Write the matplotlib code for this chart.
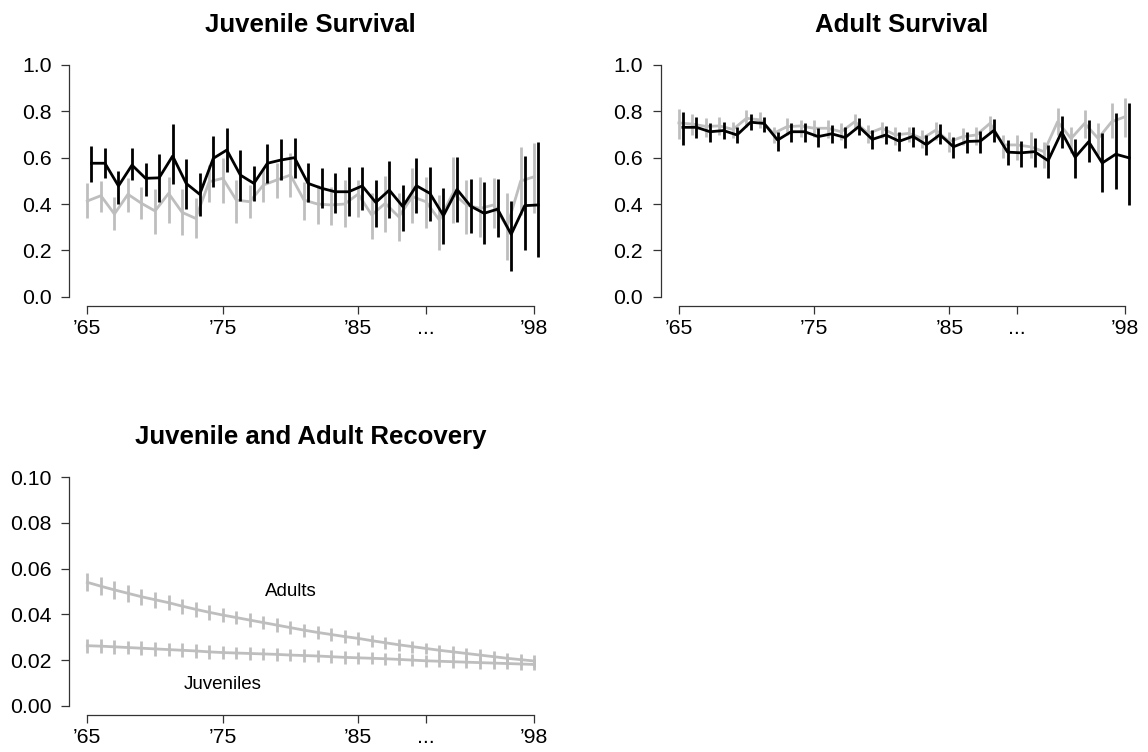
import matplotlib
matplotlib.use("Agg")
import matplotlib.pyplot as plt
import numpy as np

plt.rcParams['font.family'] = ['Liberation Sans', 'DejaVu Sans']

years = list(range(1965, 1999))
xtick_pos = [1965, 1975, 1985, 1990, 1998]
xtick_labels = ["\u201965", "\u201975", "\u201985", "...", "\u201998"]

# Juvenile survival
juv_surv_black = [0.576, 0.576, 0.478, 0.568, 0.511, 0.513, 0.607, 0.489, 0.442, 0.597,
                  0.633, 0.525, 0.489, 0.576, 0.590, 0.600, 0.489, 0.468, 0.453, 0.453,
                  0.478, 0.407, 0.460, 0.389, 0.479, 0.446, 0.350, 0.463, 0.391, 0.360,
                  0.378, 0.269, 0.393, 0.396]
juv_surv_black_lo = [0.496, 0.511, 0.400, 0.504, 0.436, 0.407, 0.485, 0.377, 0.348, 0.475,
                     0.540, 0.414, 0.413, 0.492, 0.504, 0.511, 0.410, 0.381, 0.360, 0.350,
                     0.374, 0.302, 0.341, 0.285, 0.360, 0.328, 0.227, 0.321, 0.274, 0.227,
                     0.259, 0.112, 0.202, 0.170]
juv_surv_black_hi = [0.650, 0.640, 0.542, 0.640, 0.576, 0.617, 0.744, 0.594, 0.534, 0.692,
                     0.727, 0.633, 0.564, 0.658, 0.679, 0.685, 0.576, 0.554, 0.533, 0.561,
                     0.561, 0.504, 0.587, 0.482, 0.597, 0.561, 0.468, 0.604, 0.508, 0.494,
                     0.508, 0.413, 0.609, 0.669]
juv_surv_gray = [0.413, 0.436, 0.357, 0.442, 0.403, 0.370, 0.446, 0.364, 0.338, 0.496,
                 0.511, 0.417, 0.410, 0.482, 0.504, 0.525, 0.417, 0.400, 0.396, 0.400,
                 0.443, 0.353, 0.403, 0.345, 0.432, 0.410, 0.331, 0.446, 0.396, 0.381,
                 0.396, 0.302, 0.499, 0.518]
juv_surv_gray_lo = [0.338, 0.364, 0.288, 0.367, 0.334, 0.271, 0.317, 0.266, 0.252, 0.410,
                    0.403, 0.317, 0.338, 0.410, 0.425, 0.432, 0.331, 0.314, 0.309, 0.299,
                    0.345, 0.249, 0.281, 0.240, 0.317, 0.295, 0.202, 0.317, 0.269, 0.259,
                    0.295, 0.158, 0.353, 0.360]
juv_surv_gray_hi = [0.492, 0.499, 0.432, 0.511, 0.475, 0.463, 0.518, 0.463, 0.425, 0.568,
                    0.597, 0.504, 0.482, 0.554, 0.576, 0.619, 0.496, 0.482, 0.475, 0.504,
                    0.504, 0.446, 0.521, 0.446, 0.554, 0.518, 0.439, 0.602, 0.504, 0.518,
                    0.511, 0.449, 0.647, 0.662]

# Adult survival
ad_surv_black = [0.731, 0.731, 0.712, 0.717, 0.698, 0.753, 0.748, 0.676, 0.712, 0.712,
                 0.691, 0.703, 0.687, 0.734, 0.679, 0.698, 0.671, 0.692, 0.656, 0.699,
                 0.647, 0.670, 0.672, 0.718, 0.624, 0.621, 0.626, 0.587, 0.711, 0.602,
                 0.669, 0.577, 0.615, 0.599]
ad_surv_black_lo = [0.655, 0.683, 0.669, 0.679, 0.662, 0.719, 0.709, 0.629, 0.666, 0.669,
                    0.647, 0.665, 0.643, 0.698, 0.637, 0.658, 0.629, 0.647, 0.612, 0.658,
                    0.597, 0.619, 0.619, 0.669, 0.568, 0.561, 0.561, 0.511, 0.640, 0.514,
                    0.580, 0.453, 0.465, 0.396]
ad_surv_black_hi = [0.796, 0.777, 0.748, 0.755, 0.734, 0.787, 0.777, 0.712, 0.751, 0.748,
                    0.729, 0.741, 0.731, 0.773, 0.719, 0.737, 0.712, 0.731, 0.698, 0.744,
                    0.691, 0.709, 0.717, 0.765, 0.676, 0.673, 0.683, 0.655, 0.781, 0.681,
                    0.763, 0.705, 0.791, 0.837]
ad_surv_gray = [0.750, 0.745, 0.735, 0.737, 0.722, 0.770, 0.763, 0.705, 0.734, 0.737,
                0.727, 0.727, 0.712, 0.755, 0.705, 0.727, 0.698, 0.705, 0.683, 0.719,
                0.669, 0.691, 0.698, 0.748, 0.655, 0.655, 0.647, 0.626, 0.755, 0.683,
                0.748, 0.683, 0.755, 0.777]
ad_surv_gray_lo = [0.680, 0.700, 0.690, 0.700, 0.683, 0.734, 0.727, 0.662, 0.698, 0.691,
                   0.691, 0.683, 0.676, 0.719, 0.662, 0.683, 0.655, 0.669, 0.640, 0.676,
                   0.626, 0.655, 0.655, 0.705, 0.597, 0.590, 0.597, 0.554, 0.698, 0.619,
                   0.683, 0.612, 0.683, 0.691]
ad_surv_gray_hi = [0.810, 0.790, 0.770, 0.775, 0.755, 0.806, 0.796, 0.734, 0.770, 0.763,
                   0.763, 0.763, 0.748, 0.787, 0.741, 0.755, 0.734, 0.734, 0.719, 0.755,
                   0.712, 0.727, 0.734, 0.780, 0.698, 0.698, 0.712, 0.669, 0.813, 0.734,
                   0.806, 0.748, 0.834, 0.856]

# Recovery
rec_adult = [0.0540, 0.0523, 0.0507, 0.0492, 0.0477, 0.0464, 0.0451, 0.0436, 0.0422, 0.0409,
             0.0397, 0.0386, 0.0375, 0.0364, 0.0353, 0.0342, 0.0331, 0.0321, 0.0312, 0.0303,
             0.0295, 0.0285, 0.0276, 0.0267, 0.0259, 0.0251, 0.0243, 0.0236, 0.0229, 0.0222,
             0.0215, 0.0208, 0.0202, 0.0196]
rec_adult_err = [0.0040, 0.0039, 0.0038, 0.0037, 0.0036, 0.0035, 0.0034, 0.0033, 0.0032, 0.0032,
                 0.0031, 0.0030, 0.0030, 0.0029, 0.0029, 0.0028, 0.0028, 0.0028, 0.0027, 0.0027,
                 0.0027, 0.0026, 0.0026, 0.0026, 0.0026, 0.0025, 0.0025, 0.0025, 0.0025, 0.0025,
                 0.0025, 0.0025, 0.0025, 0.0025]
rec_juv = [0.0263, 0.0261, 0.0258, 0.0255, 0.0252, 0.0249, 0.0246, 0.0243, 0.0240, 0.0236,
           0.0233, 0.0231, 0.0229, 0.0227, 0.0225, 0.0222, 0.0220, 0.0218, 0.0215, 0.0212,
           0.0210, 0.0208, 0.0206, 0.0203, 0.0200, 0.0197, 0.0195, 0.0193, 0.0191, 0.0189,
           0.0187, 0.0185, 0.0183, 0.0181]
rec_juv_err = [0.0030] * 10 + [0.0028] * 10 + [0.0026] * 14

GRAY = '#BEBEBE'
LW = 2.0
TICK_FS = 15.3
TITLE_FS = 18.5
BLACK_SHIFT = 0.3

fig = plt.figure(figsize=(11.48, 7.52), dpi=100)
ax1 = fig.add_axes([0.0605, 0.5931, 0.4204, 0.3328])
ax2 = fig.add_axes([0.5758, 0.5931, 0.4199, 0.3328])
ax3 = fig.add_axes([0.0605, 0.0492, 0.4204, 0.3285])


def style(ax, ymax, yticks, yfmt, title):
    ax.set_xlim(1965 - 0.04 * 33, 1998 + 0.04 * 33)
    ax.set_ylim(-0.04 * ymax, ymax * 1.04)
    for s in ['top', 'right']:
        ax.spines[s].set_visible(False)
    for s in ['left', 'bottom']:
        ax.spines[s].set_linewidth(0.9)
        ax.spines[s].set_color('#333333')
    ax.spines['bottom'].set_bounds(1965, 1998)
    ax.spines['left'].set_bounds(yticks[0], yticks[-1])
    ax.set_xticks(xtick_pos)
    ax.set_xticklabels(xtick_labels)
    ax.set_yticks(yticks)
    ax.set_yticklabels([yfmt.format(v) for v in yticks])
    ax.tick_params(direction='out', length=6, width=0.9, color='#333333',
                   labelsize=TICK_FS)
    ax.tick_params(axis='x', pad=3.5)
    ax.tick_params(axis='y', pad=7)
    ax.set_title(title, fontsize=TITLE_FS, fontweight='bold', pad=17)


def series(ax, x, y, lo, hi, color, z):
    ax.vlines(x, lo, hi, color=color, lw=LW, zorder=z)
    ax.plot(x, y, color=color, lw=LW, zorder=z)


yrs = np.array(years, dtype=float)

series(ax1, yrs, juv_surv_gray, juv_surv_gray_lo, juv_surv_gray_hi, GRAY, 2)
series(ax1, yrs + BLACK_SHIFT, juv_surv_black, juv_surv_black_lo, juv_surv_black_hi, 'black', 3)
style(ax1, 1.0, [0.0, 0.2, 0.4, 0.6, 0.8, 1.0], '{:.1f}', 'Juvenile Survival')

series(ax2, yrs, ad_surv_gray, ad_surv_gray_lo, ad_surv_gray_hi, GRAY, 2)
series(ax2, yrs + BLACK_SHIFT, ad_surv_black, ad_surv_black_lo, ad_surv_black_hi, 'black', 3)
style(ax2, 1.0, [0.0, 0.2, 0.4, 0.6, 0.8, 1.0], '{:.1f}', 'Adult Survival')

ra = np.array(rec_adult)
rae = np.array(rec_adult_err)
rj = np.array(rec_juv)
rje = np.array(rec_juv_err)
series(ax3, yrs, ra, ra - rae, ra + rae, GRAY, 2)
series(ax3, yrs, rj, rj - rje, rj + rje, GRAY, 2)
style(ax3, 0.10, [0.00, 0.02, 0.04, 0.06, 0.08, 0.10], '{:.2f}', 'Juvenile and Adult Recovery')
ax3.text(1980, 0.0499, 'Adults', fontsize=13.5, ha='center', va='center')
ax3.text(1975, 0.0095, 'Juveniles', fontsize=13.5, ha='center', va='center')

fig.savefig('out.png', dpi=100)
